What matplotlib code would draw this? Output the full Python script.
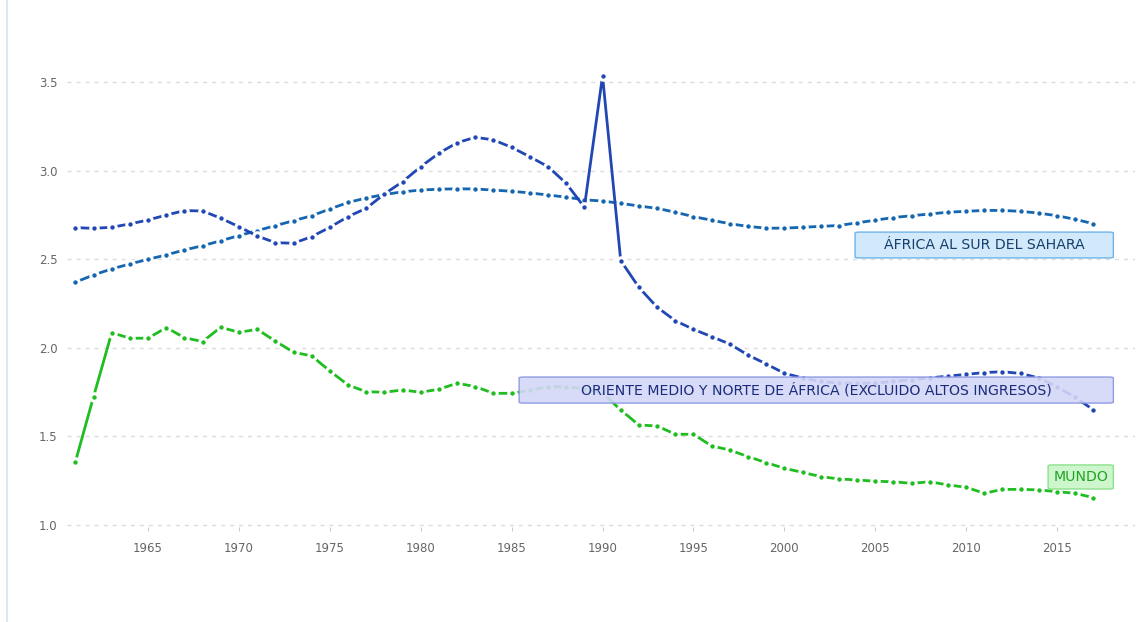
import matplotlib
matplotlib.use("Agg")
import matplotlib.pyplot as plt
from matplotlib.patches import FancyBboxPatch
from matplotlib.lines import Line2D

years = list(range(1961, 2018))

mena = [2.678, 2.674, 2.680, 2.699, 2.721, 2.749, 2.774, 2.772, 2.731, 2.683,
        2.631, 2.593, 2.590, 2.627, 2.680, 2.740, 2.787, 2.868, 2.937, 3.022,
        3.098, 3.157, 3.188, 3.173, 3.131, 3.078, 3.022, 2.928, 2.793, 3.534,
        2.492, 2.341, 2.229, 2.153, 2.104, 2.063, 2.021, 1.959, 1.909, 1.856,
        1.830, 1.810, 1.800, 1.800, 1.800, 1.810, 1.820, 1.830, 1.840, 1.850,
        1.860, 1.865, 1.855, 1.830, 1.780, 1.720, 1.650]

ssa = [2.370, 2.411, 2.445, 2.473, 2.499, 2.524, 2.552, 2.576, 2.604, 2.633,
       2.661, 2.689, 2.717, 2.745, 2.783, 2.820, 2.845, 2.865, 2.880, 2.890,
       2.895, 2.897, 2.896, 2.890, 2.883, 2.874, 2.862, 2.850, 2.835, 2.828,
       2.815, 2.800, 2.787, 2.765, 2.740, 2.720, 2.700, 2.685, 2.675, 2.675,
       2.680, 2.685, 2.690, 2.705, 2.720, 2.735, 2.745, 2.755, 2.765, 2.770,
       2.775, 2.775, 2.770, 2.760, 2.745, 2.725, 2.700]

world = [1.356, 1.724, 2.085, 2.054, 2.054, 2.114, 2.057, 2.035, 2.116, 2.087,
         2.104, 2.038, 1.975, 1.954, 1.869, 1.790, 1.752, 1.749, 1.762, 1.749,
         1.766, 1.800, 1.781, 1.743, 1.743, 1.760, 1.780, 1.780, 1.770, 1.745,
         1.649, 1.564, 1.559, 1.512, 1.512, 1.446, 1.423, 1.386, 1.352, 1.320,
         1.297, 1.273, 1.260, 1.254, 1.247, 1.244, 1.235, 1.244, 1.226, 1.213,
         1.179, 1.201, 1.201, 1.198, 1.188, 1.179, 1.154]

x_ticks = [1965, 1970, 1975, 1980, 1985, 1990, 1995, 2000, 2005, 2010, 2015]
y_ticks = [1.0, 1.5, 2.0, 2.5, 3.0, 3.5]
y_tick_labels = ["1.0", "1.5", "2.0", "2.5", "3.0", "3.5"]

lbl_ssa = "ÁFRICA AL SUR DEL SAHARA"
lbl_mena = "ORIENTE MEDIO Y NORTE DE ÁFRICA (EXCLUIDO ALTOS INGRESOS)"
lbl_world = "MUNDO"

plt.rcParams['font.family'] = ['DejaVu Sans']

fig = plt.figure(figsize=(11.37, 6.22), dpi=100)
ax = fig.add_axes([67/1137, 0.1531, (1135-67)/1137, 0.8291])
ax.set_xlim(1960.54, 2019.29)
ax.set_ylim(0.99, 3.9)

for s in ax.spines.values():
    s.set_visible(False)

ax.set_yticks(y_ticks)
ax.set_yticklabels(y_tick_labels)
ax.set_xticks(x_ticks)
ax.tick_params(axis='y', length=0, pad=7, labelsize=8.5, labelcolor='#666666')
ax.tick_params(axis='x', length=3, width=0.8, color='#cccccc', pad=8,
               labelsize=8.5, labelcolor='#666666')
ax.yaxis.grid(True, color='#dddddd', linestyle=(0, (3, 3.5)), linewidth=1)
ax.set_axisbelow(True)

def draw(vals, color, z):
    ax.plot(years, vals, color=color, lw=2.0, solid_capstyle='butt',
            marker='o', ms=5.4, mfc=color, mec='white', mew=2.2, zorder=z)

draw(ssa, '#1466b0', 3)
draw(mena, '#2147b5', 4)
draw(world, '#1fbd1f', 3)

def label(x0, x1, y0, y1, text, fc, ec, tc):
    box = FancyBboxPatch((x0, y0), x1 - x0, y1 - y0,
                         boxstyle="round,pad=0,rounding_size=0.25",
                         mutation_aspect=0.02,
                         facecolor=fc, edgecolor=ec, lw=1.0, alpha=0.9, zorder=6)
    ax.add_patch(box)
    ax.text((x0 + x1) / 2, (y0 + y1) / 2, text, ha='center', va='center',
            fontsize=10.2, color=tc, zorder=7)

label(2003.89, 2018.10, 2.507, 2.653, lbl_ssa, '#cde7fb', '#62ace6', '#15406e')
label(1985.41, 2018.10, 1.688, 1.835, lbl_mena, '#d3d7f7', '#8593e0', '#1c2c7c')
label(2014.51, 2018.10, 1.203, 1.339, lbl_world, '#c8f5c8', '#84de84', '#22a322')

fig.add_artist(Line2D([7/1137, 7/1137], [0, 1], transform=fig.transFigure,
                      color='#d3e5f5', lw=1.2))

fig.savefig("out.png", dpi=100)
